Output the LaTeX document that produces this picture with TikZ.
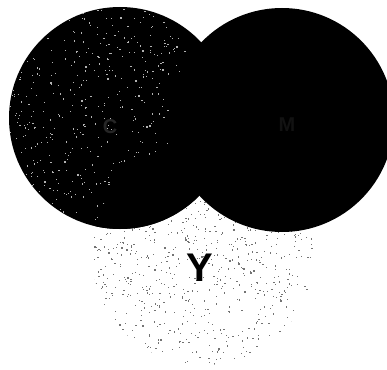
\documentclass[tikz,border=0pt]{standalone}
\usepackage{fontspec}
\setmainfont{Liberation Sans}
\tikzset{
  speck/.style={fill=black!30},
  dotty/.style={fill=black!55},
  lbl/.style={font=\bfseries\fontsize{40}{40}\selectfont, inner sep=0pt},
  hidlbl/.style={font=\bfseries\fontsize{20}{20}\selectfont, inner sep=0pt}
}
\begin{document}
\begin{tikzpicture}[x=1pt,y=-1pt]
\useasboundingbox (0,0) rectangle (387,369);
\clip (0,0) rectangle (387,369);
\coordinate (L) at (120,118);
\coordinate (R) at (282,120);
\coordinate (B) at (203,254);
\pgfmathsetseed{11}
% bottom (yellow) circle: white with sparse grey dots
\begin{scope}
  \clip (B) circle (111pt);
  \fill[white] (B) circle (111pt);
  \foreach \i in {1,...,1000} {
    \fill[dotty] ({92+rnd*222},{143+rnd*222}) rectangle ++(1.2,1.2);
  }
\end{scope}
% left (cyan) circle: black with light speckles
\fill[black] (L) circle (111pt);
\begin{scope}
  \clip (L) circle (111pt);
  \foreach \i in {1,...,650} {
    \fill[speck] ({9+rnd*222},{7+rnd*222}) rectangle ++(1.2,1.2);
  }
\end{scope}
\node[hidlbl, text=black!85] (C) at (110,127) {C};
% right (magenta) circle: black
\fill[black] (R) circle (112pt);
\node[hidlbl, text=black!93] (M) at (287,125) {M};
% overlap of left and bottom: black
\begin{scope}
  \clip (L) circle (111pt);
  \fill[black] (B) circle (111pt);
\end{scope}
\node[lbl] (Y) at (200,268) {Y};
\end{tikzpicture}
\end{document}
